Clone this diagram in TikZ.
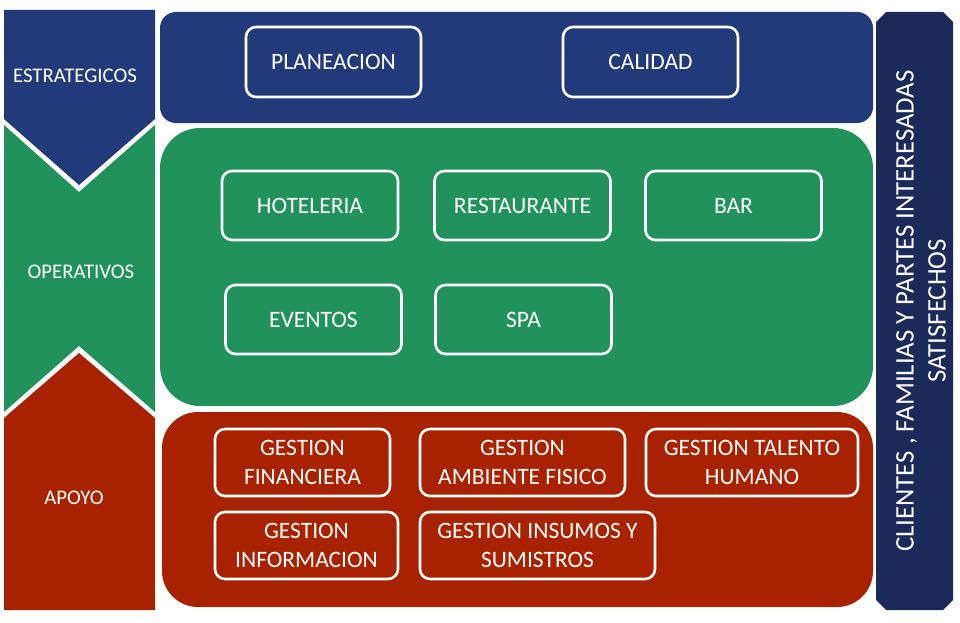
\documentclass[tikz,border=0pt]{standalone}
\usepackage{fontspec}
\setmainfont{Carlito}
\definecolor{cblue}{HTML}{233A7A}
\definecolor{cgreen}{HTML}{21925B}
\definecolor{cred}{HTML}{A92200}
\definecolor{cnavy}{HTML}{1C2A5A}
\begin{document}
\begin{tikzpicture}[x=1pt,y=-1pt,
  box/.style={draw=white,line width=2.6pt,rounded corners=10pt,inner sep=0pt,
    text=white,align=center,font=\fontsize{23.5}{29}\selectfont},
  side/.style={text=white,font=\fontsize{20.8}{24}\selectfont}]
\useasboundingbox (0,0) rectangle (960,623);
\fill[white] (0,0) rectangle (960,623);
% left column
\fill[cblue] (4,10) -- (155,10) -- (155,119) -- (79,185) -- (4,119) -- cycle;
\fill[cgreen] (4,125) -- (79,192) -- (155,125) -- (155,412) -- (79,346) -- (4,412) -- cycle;
\fill[cred] (4,418) -- (79,353) -- (155,418) -- (155,610) -- (4,610) -- cycle;
\node[side] (est) at (75,76) {ESTRATEGICOS};
\node[side] (ope) at (81,272) {OPERATIVOS};
\node[side] (apo) at (74,498) {APOYO};
% panels
\fill[cblue,rounded corners=16pt] (160,12) rectangle (873,123);
\fill[cgreen,rounded corners=40pt] (160,128) rectangle (873,406);
\fill[cred,rounded corners=36pt] (162,412) rectangle (873,607);
% right bar
\fill[cnavy] (886,12) -- (943,12) -- (953,22) -- (953,600) -- (943,610) -- (886,610) -- (876,600) -- (876,22) -- cycle;
\node[text=white,rotate=90,align=center,font=\fontsize{26.8}{32}\selectfont] (cli) at (921,311)
  {CLIENTES , FAMILIAS Y PARTES INTERESADAS\\SATISFECHOS};
% strategic
\node[box,minimum width=175pt,minimum height=70pt] (pla) at (333.5,62) {PLANEACION};
\node[box,minimum width=175pt,minimum height=70pt] (cal) at (650.5,62) {CALIDAD};
% operative
\node[box,minimum width=176pt,minimum height=69pt] (hot) at (310,205.5) {HOTELERIA};
\node[box,minimum width=176pt,minimum height=69pt] (res) at (522.5,205.5) {RESTAURANTE};
\node[box,minimum width=176pt,minimum height=69pt] (bar) at (733.5,205.5) {BAR};
\node[box,minimum width=176pt,minimum height=69pt] (eve) at (313.5,319.5) {EVENTOS};
\node[box,minimum width=176pt,minimum height=69pt] (spa) at (523.5,319.5) {SPA};
% support
\node[box,minimum width=175pt,minimum height=67pt] (gf) at (302.5,462.5) {GESTION\\FINANCIERA};
\node[box,minimum width=205pt,minimum height=67pt] (gaf) at (522.5,462.5) {GESTION\\AMBIENTE FISICO};
\node[box,minimum width=212pt,minimum height=67pt] (gth) at (752,462.5) {GESTION TALENTO\\HUMANO};
\node[box,minimum width=183pt,minimum height=67pt] (gi) at (306.5,545.5) {GESTION\\INFORMACION};
\node[box,minimum width=235pt,minimum height=67pt] (gis) at (537.5,545.5) {GESTION INSUMOS Y\\SUMISTROS};
\end{tikzpicture}
\end{document}
